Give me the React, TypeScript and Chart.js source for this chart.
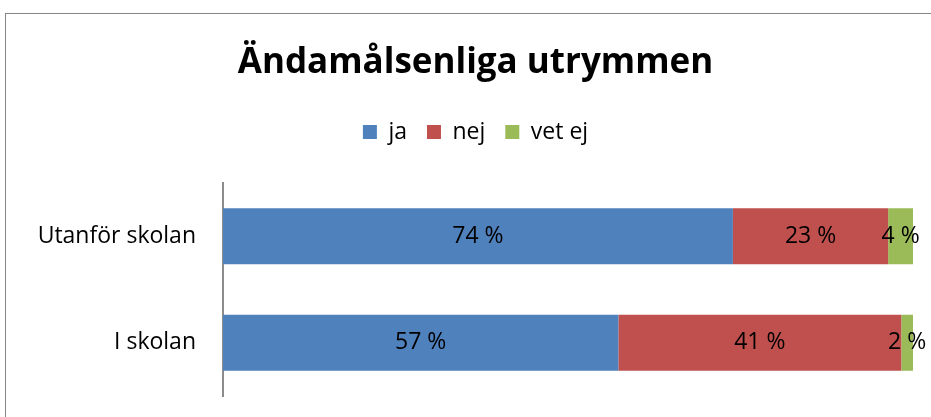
import React, { useEffect, useRef } from "react";
import { Chart, registerables } from "chart.js";

Chart.register(...registerables);

const categories = ["Utanför skolan", "I skolan"];
const seriesNames = ["ja", "nej", "vet ej"];
const jaValues = [73.9, 57.3];
const nejValues = [22.5, 41.0];
const vetEjValues = [3.6, 1.7];
const seriesColors = ["#4F81BD", "#C0504D", "#9BBB59"];
const titleText = "Ändamålsenliga utrymmen";

const FONT = "'Open Sans', 'DejaVu Sans', sans-serif";

const frameBorder = {
  id: "frameBorder",
  beforeDraw(chart: any) {
    const ctx = chart.ctx;
    ctx.save();
    ctx.strokeStyle = "#868686";
    ctx.lineWidth = 1;
    ctx.strokeRect(5.5, 13.5, chart.width + 50, chart.height + 50);
    ctx.restore();
  },
};

const segmentLabels = {
  id: "segmentLabels",
  afterDatasetsDraw(chart: any) {
    const ctx = chart.ctx;
    ctx.save();
    ctx.font = `23px ${FONT}`;
    ctx.fillStyle = "#000000";
    ctx.textAlign = "center";
    ctx.textBaseline = "middle";
    chart.data.datasets.forEach((ds: any, di: number) => {
      const meta = chart.getDatasetMeta(di);
      meta.data.forEach((el: any, i: number) => {
        const v = ds.data[i];
        const cx = (el.x + el.base) / 2;
        ctx.fillText(`${Math.round(v)} %`, cx, el.y);
      });
    });
    ctx.restore();
  },
};

export default function App() {
  const ref = useRef<HTMLCanvasElement | null>(null);

  useEffect(() => {
    if (!ref.current) return;
    const values = [jaValues, nejValues, vetEjValues];
    const chart = new Chart(ref.current, {
      type: "bar",
      data: {
        labels: categories,
        datasets: seriesNames.map((name, i) => ({
          label: name,
          data: values[i],
          backgroundColor: seriesColors[i],
          borderWidth: 0,
          barPercentage: 0.526,
          categoryPercentage: 1,
        })),
      },
      options: {
        indexAxis: "y",
        animation: false,
        responsive: true,
        maintainAspectRatio: false,
        layout: { autoPadding: false, padding: { top: 0, left: 38, right: 18, bottom: 21 } },
        plugins: {
          tooltip: { enabled: false },
          title: {
            display: true,
            text: titleText,
            color: "#000000",
            font: { family: FONT, size: 35, weight: "bold" },
            padding: { top: 42, bottom: 16.5 },
          },
          legend: {
            display: true,
            position: "top",
            labels: {
              color: "#000000",
              font: { family: FONT, size: 23 },
              boxWidth: 14,
              boxHeight: 14,
              padding: 20,
            },
          },
        },
        scales: {
          x: {
            stacked: true,
            min: 0,
            max: 100,
            position: "top",
            display: true,
            grid: { display: false, drawTicks: false },
            border: { display: false },
            ticks: { display: false },
            afterFit: (s: any) => {
              s.height = 29.5;
              s.paddingLeft = 0;
              s.paddingRight = 0;
            },
          },
          y: {
            stacked: true,
            grid: { display: false, drawTicks: false },
            border: { display: true, color: "#8C8C8C", width: 2 },
            ticks: {
              color: "#000000",
              font: { family: FONT, size: 23 },
              padding: 27,
            },
            afterFit: (s: any) => {
              s.width = 185;
              s.paddingTop = 0;
              s.paddingBottom = 0;
            },
          },
        },
      },
      plugins: [frameBorder, segmentLabels],
    });
    return () => chart.destroy();
  }, []);

  return (
    <div style={{ position: "fixed", left: 0, top: 0, width: 931, height: 417, background: "#ffffff" }}>
      <canvas ref={ref} />
    </div>
  );
}
